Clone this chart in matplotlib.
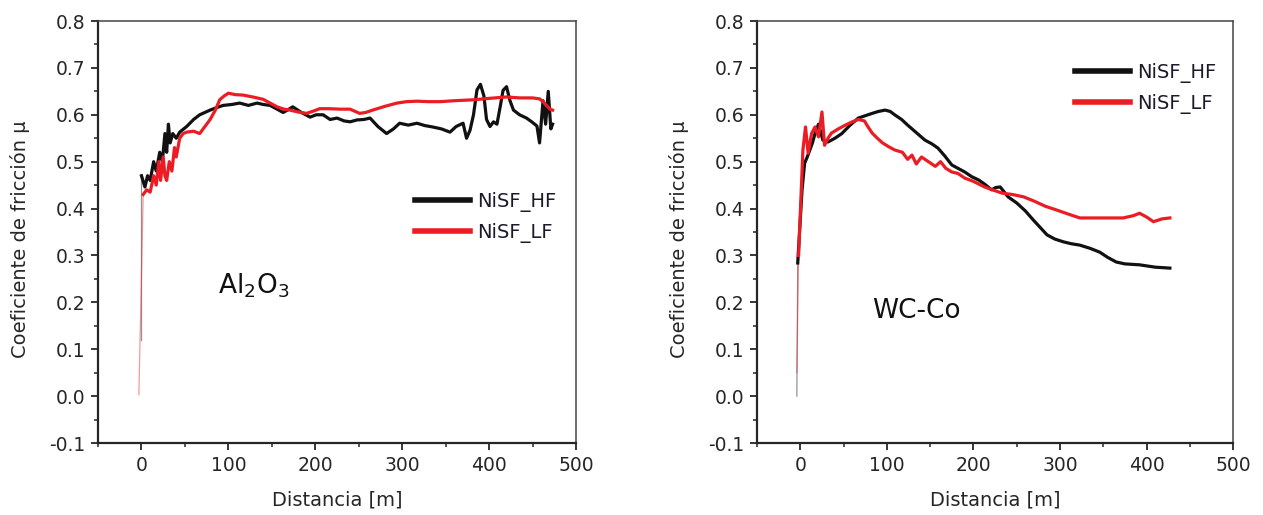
import numpy as np
import matplotlib
matplotlib.use("Agg")
import matplotlib.pyplot as plt
from matplotlib.ticker import MultipleLocator

plt.rcParams['font.family'] = ['DejaVu Sans']

# ---- Al2O3 panel ----
al_hf_x = [0, 0, 4, 7, 10, 14, 17, 21, 24, 27, 29, 31, 33, 36, 40, 44, 52, 60, 67, 73, 79,
           86, 94, 104, 113, 123, 133, 140, 148, 156, 163, 168, 174, 184, 194, 201, 209,
           217, 225, 233, 240, 248, 256, 263, 272, 282, 290, 297, 307, 317, 326, 335, 345,
           355, 362, 370, 374, 378, 382, 386, 390, 394, 397, 401, 405, 409, 413, 416, 420,
           424, 428, 435, 443, 449, 455, 458, 462, 465, 468, 471, 473]
al_hf_y = [0.12, 0.47, 0.446, 0.47, 0.46, 0.50, 0.48, 0.52, 0.50, 0.56, 0.52, 0.58, 0.54,
           0.56, 0.55, 0.563, 0.575, 0.59, 0.60, 0.605, 0.61, 0.615, 0.62, 0.622, 0.625,
           0.62, 0.625, 0.622, 0.62, 0.612, 0.605, 0.61, 0.617, 0.605, 0.595, 0.60, 0.60,
           0.59, 0.593, 0.587, 0.585, 0.589, 0.59, 0.593, 0.575, 0.56, 0.57, 0.582, 0.578,
           0.582, 0.577, 0.574, 0.57, 0.563, 0.575, 0.582, 0.55, 0.567, 0.60, 0.653, 0.665,
           0.64, 0.59, 0.575, 0.585, 0.58, 0.62, 0.652, 0.66, 0.63, 0.61, 0.60, 0.593, 0.585,
           0.576, 0.54, 0.63, 0.58, 0.65, 0.57, 0.58]
al_lf_x = [-3, 2, 6, 10, 14, 17, 20, 22, 25, 27, 29, 32, 35, 38, 40, 44, 48, 52, 60, 67,
           73, 79, 85, 90, 95, 100, 108, 117, 128, 140, 148, 156, 164, 171, 180, 190, 198,
           205, 215, 229, 240, 251, 258, 266, 280, 294, 305, 317, 330, 344, 360, 382, 400,
           420, 435, 450, 458, 462, 466, 470, 473]
al_lf_y = [0.003, 0.43, 0.44, 0.435, 0.47, 0.45, 0.50, 0.46, 0.51, 0.47, 0.46, 0.50, 0.48,
           0.53, 0.51, 0.55, 0.56, 0.563, 0.565, 0.56, 0.575, 0.59, 0.61, 0.632, 0.64, 0.646,
           0.643, 0.642, 0.638, 0.633, 0.625, 0.617, 0.612, 0.61, 0.606, 0.603, 0.608, 0.613,
           0.613, 0.612, 0.612, 0.603, 0.605, 0.61, 0.618, 0.625, 0.628, 0.629, 0.628, 0.628,
           0.63, 0.632, 0.635, 0.638, 0.636, 0.636, 0.634, 0.628, 0.62, 0.612, 0.61]

# ---- WC-Co panel ----
wc_hf_x = [-4, -3, 2, 5, 8, 11, 14, 17, 21, 24, 26, 32, 40, 48, 57, 67, 75, 83, 90, 98,
           104, 109, 117, 124, 134, 144, 152, 159, 167, 175, 183, 190, 198, 206, 213, 221,
           226, 231, 240, 250, 260, 269, 277, 285, 294, 304, 313, 323, 335, 346, 355, 365,
           375, 392, 410, 427]
wc_hf_y = [0.0, 0.284, 0.44, 0.497, 0.51, 0.525, 0.54, 0.56, 0.58, 0.56, 0.546, 0.542,
           0.55, 0.56, 0.577, 0.593, 0.598, 0.603, 0.607, 0.61, 0.607, 0.60, 0.59, 0.578,
           0.562, 0.546, 0.538, 0.529, 0.512, 0.493, 0.485, 0.478, 0.468, 0.461, 0.452, 0.44,
           0.445, 0.446, 0.425, 0.412, 0.395, 0.376, 0.36, 0.344, 0.335, 0.329, 0.325, 0.322,
           0.315, 0.307, 0.296, 0.286, 0.282, 0.28, 0.275, 0.273]
wc_lf_x = [-4, -2, 3, 6, 9, 13, 17, 21, 25, 28, 32, 36, 44, 52, 60, 67, 74, 78, 83, 89,
           95, 102, 109, 118, 124, 129, 134, 140, 148, 156, 162, 168, 175, 182, 190, 200,
           213, 222, 233, 245, 258, 270, 283, 296, 310, 323, 340, 354, 373, 385, 392, 400,
           408, 418, 427]
wc_lf_y = [0.05, 0.30, 0.525, 0.574, 0.518, 0.56, 0.574, 0.553, 0.606, 0.535, 0.55, 0.561,
           0.57, 0.578, 0.585, 0.59, 0.587, 0.575, 0.561, 0.55, 0.54, 0.532, 0.525, 0.52,
           0.505, 0.514, 0.495, 0.51, 0.50, 0.49, 0.50, 0.486, 0.478, 0.475, 0.465, 0.458,
           0.446, 0.44, 0.433, 0.43, 0.425, 0.416, 0.405, 0.397, 0.388, 0.38, 0.38, 0.38,
           0.38, 0.385, 0.39, 0.382, 0.372, 0.378, 0.38]

labels = ['NiSF_HF', 'NiSF_LF']
black = '#111111'
red = '#ec1c24'
txt = '#262626'

fig = plt.figure(figsize=(12.63, 5.15), dpi=100)
ax1 = fig.add_axes([0.0776, 0.1398, 0.3785, 0.8194])
ax2 = fig.add_axes([0.5994, 0.1398, 0.3769, 0.8194])


def draw(ax, hx, hy, lx, ly, leg_anchor, name, name_xy):
    # thin start-up transient, then the thick measured curve
    ax.plot(hx[:2], hy[:2], color=black, lw=0.9, alpha=0.45)
    ax.plot(lx[:2], ly[:2], color=red, lw=0.9, alpha=0.45)
    ax.plot(hx[1:], hy[1:], color=black, lw=2.3, label=labels[0])
    ax.plot(lx[1:], ly[1:], color=red, lw=2.3, label=labels[1])

    ax.set_xlim(-50, 500)
    ax.set_ylim(-0.1, 0.8)
    ax.xaxis.set_major_locator(MultipleLocator(100))
    ax.xaxis.set_minor_locator(MultipleLocator(50))
    ax.yaxis.set_major_locator(MultipleLocator(0.1))
    ax.yaxis.set_minor_locator(MultipleLocator(0.05))
    ax.yaxis.set_major_formatter(plt.FuncFormatter(lambda v, p: f'{v:.1f}'))
    ax.tick_params(which='major', direction='out', length=5, width=1.3,
                   labelsize=13.5, colors=txt, pad=4)
    ax.tick_params(which='minor', direction='out', length=3, width=1.1, colors=txt)
    for s in ['left', 'bottom']:
        ax.spines[s].set_linewidth(1.6)
        ax.spines[s].set_color(txt)
    for s in ['top', 'right']:
        ax.spines[s].set_linewidth(1.1)
        ax.spines[s].set_color('#444444')
    ax.set_xlabel('Distancia [m]', fontsize=14, color=txt)
    ax.set_ylabel('Coeficiente de fricción μ', fontsize=14, color=txt)
    ax.xaxis.set_label_coords(0.5, -0.112)
    ax.yaxis.set_label_coords(-0.142, 0.483)

    leg = ax.legend(loc='upper left', bbox_to_anchor=leg_anchor, frameon=False,
                    fontsize=14, handlelength=2.85, handletextpad=0.36,
                    labelspacing=0.55, borderpad=0, borderaxespad=0)
    for line in leg.get_lines():
        line.set_linewidth(4)
        line.set_alpha(1)
    for t in leg.get_texts():
        t.set_color('#1a1a2a')

    ax.text(name_xy[0], name_xy[1], name, fontsize=19, color='#111111',
            ha='left', va='baseline')


draw(ax1, al_hf_x, al_hf_y, al_lf_x, al_lf_y, (0.663, 0.595),
     r'Al$_2$O$_3$', (88, 0.218))
draw(ax2, wc_hf_x, wc_hf_y, wc_lf_x, wc_lf_y, (0.668, 0.900),
     'WC-Co', (83, 0.167))

fig.savefig('out.png', dpi=100)
